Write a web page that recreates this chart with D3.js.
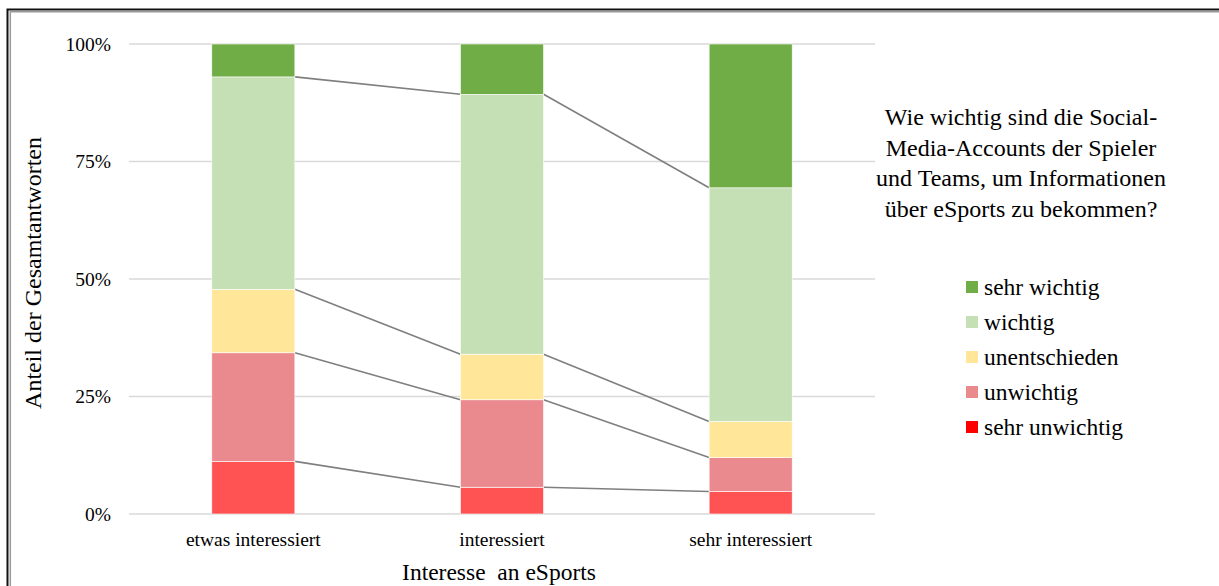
<!DOCTYPE html>
<html>
<head>
<meta charset="utf-8">
<script src="https://cdn.jsdelivr.net/npm/d3@7"></script>
<style>
  html, body { margin: 0; padding: 0; background: #fff; }
  svg { display: block; }
  text { font-family: "Liberation Serif", "Times New Roman", serif; fill: #000; }
</style>
</head>
<body>
<svg id="chart" width="1219" height="586"></svg>
<script>
// ---- data ----
const categories = ["etwas interessiert", "interessiert", "sehr interessiert"];
const seriesNames = ["sehr unwichtig", "unwichtig", "unentschieden", "wichtig", "sehr wichtig"];
const sehrUnwichtig = [11.2, 5.7, 4.8];
const unwichtig = [23.1, 18.6, 7.2];
const unentschieden = [13.5, 9.7, 7.7];
const wichtig = [45.2, 55.3, 49.7];
const sehrWichtig = [7.0, 10.7, 30.6];
const yTicks = [0, 25, 50, 75, 100];
const titleLines = ["Wie wichtig sind die Social-", "Media-Accounts der Spieler", "und Teams, um Informationen", "über eSports zu bekommen?"];
const xTitle = "Interesse  an eSports";
const yTitle = "Anteil der Gesamtantworten";

// ---- styles ----
const barColors = ["#FF5353", "#EA898E", "#FFE699", "#C5E0B4", "#70AD47"];
const legendColors = ["#FF0000", "#EA898E", "#FFE699", "#C5E0B4", "#70AD47"];

const svg = d3.select("#chart");

// frame
svg.append("path").attr("d", "M7.5,586 V9.5 H1219").attr("fill", "none").attr("stroke", "#111").attr("stroke-width", 2);
svg.append("path").attr("d", "M10.3,586 V11.8 H1219").attr("fill", "none").attr("stroke", "#999").attr("stroke-width", 1.5);

const x = d3.scaleBand().domain(categories).range([129, 875]).paddingInner(0.666).paddingOuter(0.333);
const y = d3.scaleLinear().domain([0, 100]).range([514, 44]);

// gridlines
svg.append("g").selectAll("line").data(yTicks).join("line")
  .attr("x1", 129).attr("x2", 875)
  .attr("y1", d => y(d)).attr("y2", d => y(d))
  .attr("stroke", "#d9d9d9").attr("stroke-width", 1.5);

// y tick labels
svg.append("g").selectAll("text").data(yTicks).join("text")
  .attr("x", 111).attr("y", d => y(d)).attr("dy", "0.35em")
  .attr("text-anchor", "end").attr("font-size", "19.5px")
  .text(d => d + "%");

// stacked data
const rows = categories.map((c, i) => ({
  cat: c,
  "sehr unwichtig": sehrUnwichtig[i],
  "unwichtig": unwichtig[i],
  "unentschieden": unentschieden[i],
  "wichtig": wichtig[i],
  "sehr wichtig": sehrWichtig[i]
}));
const stack = d3.stack().keys(seriesNames)(rows);

// series lines (Excel style), drawn under bars
const lineG = svg.append("g");
stack.slice(0, 4).forEach(layer => {
  for (let i = 0; i < categories.length - 1; i++) {
    lineG.append("line")
      .attr("x1", x(categories[i]) + x.bandwidth())
      .attr("y1", y(layer[i][1]))
      .attr("x2", x(categories[i + 1]))
      .attr("y2", y(layer[i + 1][1]))
      .attr("stroke", "#7f7f7f").attr("stroke-width", 1.6);
  }
});

// bars
svg.append("g").selectAll("g").data(stack).join("g")
  .attr("fill", (d, i) => barColors[i])
  .selectAll("rect").data(d => d).join("rect")
  .attr("x", d => x(d.data.cat))
  .attr("width", x.bandwidth())
  .attr("y", d => y(d[1]))
  .attr("height", d => y(d[0]) - y(d[1]))
  .attr("stroke", "#fff").attr("stroke-width", 0.6);

// category labels
svg.append("g").selectAll("text").data(categories).join("text")
  .attr("x", d => x(d) + x.bandwidth() / 2).attr("y", 546)
  .attr("text-anchor", "middle").attr("font-size", "19.5px")
  .text(d => d);

// axis titles
svg.append("text").attr("x", 499).attr("y", 580)
  .attr("text-anchor", "middle").attr("font-size", "23.5px")
  .style("white-space", "pre").text(xTitle);
svg.append("text").attr("transform", "translate(41,273) rotate(-90)")
  .attr("text-anchor", "middle").attr("font-size", "24px")
  .text(yTitle);

// title
svg.append("g").selectAll("text").data(titleLines).join("text")
  .attr("x", 1021).attr("y", (d, i) => 125 + i * 30.5)
  .attr("text-anchor", "middle").attr("font-size", "24px")
  .text(d => d);

// legend (top: sehr wichtig)
const legendOrder = seriesNames.map((n, i) => ({ name: n, color: legendColors[i] })).reverse();
const lg = svg.append("g").selectAll("g").data(legendOrder).join("g")
  .attr("transform", (d, i) => `translate(966,${287 + i * 35})`);
lg.append("rect").attr("x", 0).attr("y", -6).attr("width", 12).attr("height", 12).attr("fill", d => d.color);
lg.append("text").attr("x", 18).attr("y", 8).attr("font-size", "23.5px").text(d => d.name);
</script>
</body>
</html>
